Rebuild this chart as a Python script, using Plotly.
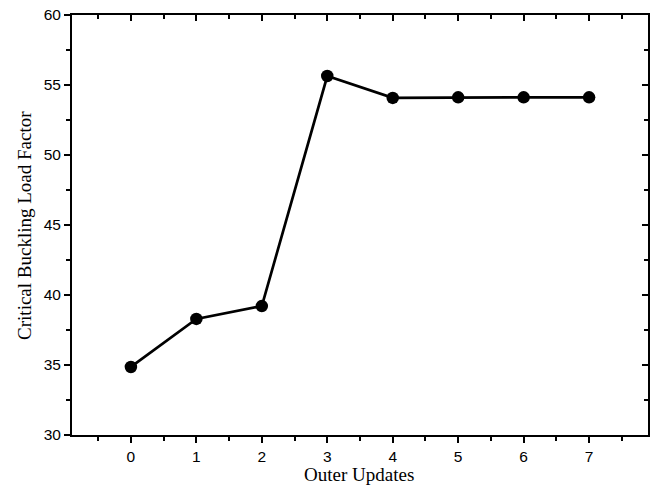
import plotly.graph_objects as go

outer_updates = [0, 1, 2, 3, 4, 5, 6, 7]
buckling_factor = [34.86, 38.29, 39.21, 55.64, 54.08, 54.12, 54.12, 54.12]
x_ticks = [0, 1, 2, 3, 4, 5, 6, 7]
y_ticks = [30, 35, 40, 45, 50, 55, 60]
x_title = "Outer Updates"
y_title = "Critical Buckling Load Factor"

fig = go.Figure()
fig.add_trace(go.Scatter(
    x=outer_updates, y=buckling_factor, mode="lines+markers",
    line=dict(color="black", width=2.7),
    marker=dict(color="black", size=12.5, symbol="circle"),
    showlegend=False))
# invisible trace for mirrored axes
fig.add_trace(go.Scatter(x=[outer_updates[0]], y=[buckling_factor[0]], xaxis="x2", yaxis="y2",
                         mode="markers", marker=dict(opacity=0), showlegend=False, hoverinfo="skip"))

tickfont = dict(family="Liberation Sans, Arial", size=15.5, color="black")
titlefont = dict(family="Liberation Serif, Times New Roman", size=19, color="#000000")

common = dict(ticks="outside", ticklen=6, tickwidth=2, tickcolor="black", showline=True,
              linecolor="black", linewidth=2, showgrid=False, zeroline=False, automargin=False)

fig.update_layout(
    width=652, height=487,
    margin=dict(l=72, r=4, t=15, b=52),
    paper_bgcolor="white", plot_bgcolor="white",
    xaxis=dict(range=[-0.9, 7.9], tickvals=x_ticks, tickfont=tickfont, ticklabelstandoff=0,
               minor=dict(dtick=0.5, tick0=0.5, ticks="outside", ticklen=4, tickwidth=2, tickcolor="black", showgrid=False),
               **common),
    yaxis=dict(range=[30, 60], tickvals=y_ticks, tickfont=tickfont,
               minor=dict(dtick=2.5, tick0=0, ticks="outside", ticklen=4, tickwidth=2, tickcolor="black", showgrid=False),
               **common),
    xaxis2=dict(range=[-0.9, 7.9], overlaying="x", side="top", tickvals=x_ticks, showticklabels=False,
                minor=dict(dtick=0.5, tick0=0.5, ticks="inside", ticklen=4, tickwidth=2, tickcolor="black", showgrid=False),
                **{**common, "ticks": "inside"}),
    yaxis2=dict(range=[30, 60], overlaying="y", side="right", tickvals=y_ticks, showticklabels=False,
                minor=dict(dtick=2.5, tick0=0, ticks="inside", ticklen=4, tickwidth=2, tickcolor="black", showgrid=False),
                **{**common, "ticks": "inside"}),
    annotations=[
        dict(text=x_title, xref="paper", yref="paper", x=0.4985, y=-0.094, xanchor="center", yanchor="middle",
             showarrow=False, font=titlefont),
        dict(text=y_title, xref="paper", yref="paper", x=-0.0835, y=0.5, xanchor="center", yanchor="middle",
             textangle=-90, showarrow=False, font=titlefont),
    ],
)

fig.write_html("out.html", config={"responsive": False, "displayModeBar": False},
               post_script="document.body.style.margin='0';document.body.style.padding='0';document.body.style.overflow='hidden';")
